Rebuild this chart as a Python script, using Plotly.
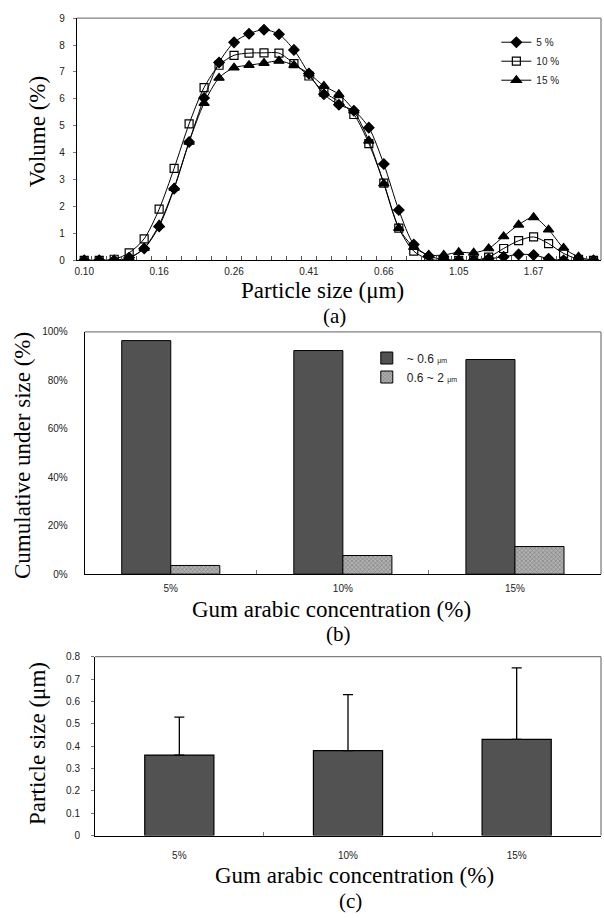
import plotly.graph_objects as go

# ---------- data ----------
SIZE_CLASSES = ["0.10", "0.11", "0.12", "0.13", "0.14", "0.16", "0.17", "0.19", "0.21", "0.23",
                "0.26", "0.28", "0.31", "0.34", "0.37", "0.41", "0.45", "0.50", "0.55", "0.60",
                "0.66", "0.72", "0.79", "0.87", "0.96", "1.05", "1.15", "1.27", "1.39", "1.52",
                "1.67", "1.83", "2.01", "2.21", "2.42"]
VOL_5 = [0, 0, 0, 0.1, 0.44, 1.26, 2.66, 4.4, 6.03, 7.35, 8.1, 8.42, 8.57, 8.4, 7.82, 6.94, 6.17,
         5.78, 5.56, 4.93, 3.58, 1.87, 0.59, 0.16, 0.04, 0, 0, 0.06, 0.13, 0.22, 0.2, 0.06, 0, 0, 0]
VOL_10 = [0, 0, 0.04, 0.28, 0.8, 1.9, 3.42, 5.07, 6.42, 7.25, 7.62, 7.7, 7.71, 7.7, 7.31, 6.85, 6.25,
          5.9, 5.42, 4.34, 2.87, 1.2, 0.34, 0.04, 0, 0, 0, 0.12, 0.44, 0.73, 0.87, 0.62, 0.26, 0.04, 0]
VOL_15 = [0, 0, 0, 0.08, 0.45, 1.32, 2.69, 4.4, 5.84, 6.78, 7.16, 7.25, 7.33, 7.41, 7.25, 6.94, 6.48,
          6.17, 5.56, 4.44, 2.85, 1.2, 0.49, 0.2, 0.2, 0.3, 0.28, 0.44, 0.89, 1.32, 1.6, 1.14, 0.46, 0.13, 0]

CONC = ["5%", "10%", "15%"]
UNDER_06 = [96.4, 92.3, 88.6]      # cumulative % below 0.6 um
RANGE_06_2 = [3.6, 7.7, 11.4]      # % between 0.6 and 2 um

MEAN_SIZE = [0.36, 0.38, 0.43]
MEAN_SD = [0.17, 0.25, 0.32]

# ---------- geometry helpers ----------
W, H = 604, 918
def px(x):
    return x / W
def py(y):
    return 1 - y / H

SERIF = "Liberation Serif, Times New Roman, serif"
SANS = "Liberation Sans, Arial, sans-serif"
TICKFONT = dict(family=SANS, size=10, color="#222")
FRAME = "#808080"

fig = go.Figure()

# ---------- (a) volume distribution ----------
for name, vals, sym, msize in [("5 %", VOL_5, "diamond", 8),
                               ("10 %", VOL_10, "square-open", 8),
                               ("15 %", VOL_15, "triangle-up", 9)]:
    fig.add_trace(go.Scatter(
        x=SIZE_CLASSES, y=vals, name=name, mode="lines+markers",
        line=dict(color="black", width=1, shape="spline", smoothing=0.8),
        marker=dict(symbol=sym, size=msize, color="black", line=dict(color="black", width=1.2)),
        xaxis="x", yaxis="y", legend="legend"))

# ---------- (b) cumulative under size ----------
UM = "<span style='font-size:7px;color:#222'>μm</span>"
fig.add_trace(go.Bar(
    x=CONC, y=UNDER_06, name="~ 0.6 " + UM,
    width=0.285, offset=-0.285,
    marker=dict(color="#505050", line=dict(color="black", width=1),
                pattern=dict(shape="-", size=2, solidity=0.35, fgcolor="#3c3c3c", bgcolor="#565656")),
    xaxis="x2", yaxis="y2", legend="legend2"))
fig.add_trace(go.Bar(
    x=CONC, y=RANGE_06_2, name="0.6 ~ 2 " + UM,
    width=0.285, offset=0,
    marker=dict(color="#9a9a9a", line=dict(color="black", width=1),
                pattern=dict(shape="x", size=3, solidity=0.4, fgcolor="#555555", bgcolor="#b0b0b0")),
    xaxis="x2", yaxis="y2", legend="legend2"))

# ---------- (c) mean particle size ----------
fig.add_trace(go.Bar(
    x=CONC, y=MEAN_SIZE, width=0.41, showlegend=False,
    marker=dict(color="#505050", line=dict(color="black", width=1.2),
                pattern=dict(shape="-", size=2, solidity=0.35, fgcolor="#3c3c3c", bgcolor="#565656")),
    error_y=dict(type="data", array=MEAN_SD, arrayminus=[0, 0, 0], symmetric=False,
                 color="black", thickness=1.3, width=5),
    xaxis="x3", yaxis="y3"))

ticktext_a = [s if i % 5 == 0 else "" for i, s in enumerate(SIZE_CLASSES)]

axis_common = dict(showgrid=False, zeroline=False, showline=True, linecolor="black", linewidth=1,
                   tickfont=TICKFONT)

fig.update_layout(
    width=W, height=H, margin=dict(l=0, r=0, t=0, b=0),
    paper_bgcolor="white", plot_bgcolor="white",
    font=dict(family=SANS, color="black"),
    xaxis=dict(domain=[px(75), px(601)], anchor="y", type="category",
               range=[-0.5, len(SIZE_CLASSES) - 0.5],
               tickmode="array", tickvals=SIZE_CLASSES, ticktext=ticktext_a, tickangle=0,
               tickson="boundaries", ticks="inside", ticklen=4, tickcolor="#555",
               ticklabelstandoff=2, **axis_common),
    yaxis=dict(domain=[py(257.7), py(12.3)], anchor="x", range=[0, 9], dtick=1,
               ticks="outside", ticklen=3, tickcolor="#777", ticklabelstandoff=6, **axis_common),
    xaxis2=dict(domain=[px(83), px(601)], anchor="y2", type="category", range=[-0.5, 2.5],
                tickson="boundaries", ticks="inside", ticklen=4, tickcolor="#777", tickangle=0,
                ticklabelstandoff=5, **axis_common),
    yaxis2=dict(domain=[py(575.7), py(330.2)], anchor="x2", range=[0, 100], dtick=20,
                ticksuffix="%", ticks="", ticklabelstandoff=14, **axis_common),
    xaxis3=dict(domain=[px(93.3), px(601)], anchor="y3", type="category", range=[-0.5, 2.5],
                tickson="boundaries", ticks="inside", ticklen=4, tickcolor="#777", tickangle=0,
                ticklabelstandoff=10, **axis_common),
    yaxis3=dict(domain=[py(840.5), py(659.3)], anchor="x3", range=[0, 0.8], dtick=0.1,
                tickformat="~g", ticks="outside", ticklen=3, tickcolor="#777",
                ticklabelstandoff=9, **axis_common),
    legend=dict(x=px(496), y=py(22), xanchor="left", yanchor="top",
                bgcolor="rgba(0,0,0,0)", font=dict(family=SANS, size=10, color="#222"),
                itemwidth=30, tracegroupgap=0),
    legend2=dict(x=px(366), y=py(342), xanchor="left", yanchor="top",
                 bgcolor="rgba(0,0,0,0)", font=dict(family=SANS, size=12, color="#222"),
                 itemwidth=30),
)

# gray top/right frame lines of each panel
for (x0, x1, y0, y1) in [(75, 601, 12.3, 257.7), (83, 601, 330.2, 575.7), (93.3, 601, 659.3, 840.5)]:
    fig.add_shape(type="line", xref="paper", yref="paper", x0=px(x0), x1=px(x1), y0=py(y0), y1=py(y0),
                  line=dict(color=FRAME, width=1.3), layer="below")
    fig.add_shape(type="line", xref="paper", yref="paper", x0=px(x1), x1=px(x1), y0=py(y0), y1=py(y1),
                  line=dict(color=FRAME, width=1.3), layer="below")

def label(text, x, y, size=23, angle=0):
    fig.add_annotation(text=text, x=px(x), y=py(y), xref="paper", yref="paper",
                       showarrow=False, textangle=angle, xanchor="center", yanchor="middle",
                       font=dict(family=SERIF, size=size, color="black"))

label("Particle size (μm)", 322, 288)
label("(a)", 334, 314, size=21)
label("Volume (%)", 35, 127, angle=-90)

label("Gum arabic concentration (%)", 331, 611)
label("(b)", 338, 636, size=21)
label("Cumulative under size (%)", 20, 455, angle=-90)

label("Gum arabic concentration (%)", 354, 881)
label("(c)", 350, 907, size=21)
label("Particle size (μm)", 35, 747, angle=-90)

fig.write_html("out.html")
